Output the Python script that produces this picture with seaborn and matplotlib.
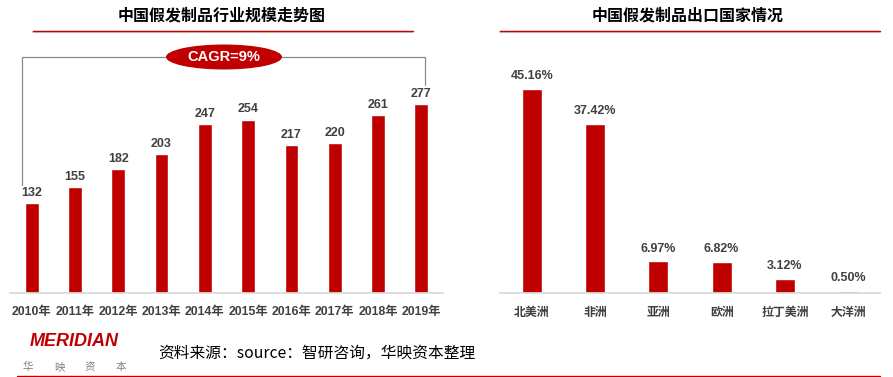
import matplotlib
matplotlib.use('Agg')
import matplotlib.pyplot as plt
import seaborn as sns
import pandas as pd
from matplotlib.patches import Ellipse
from matplotlib.lines import Line2D

# 数据
years = ["2010年", "2011年", "2012年", "2013年", "2014年",
         "2015年", "2016年", "2017年", "2018年", "2019年"]
scale = [132, 155, 182, 203, 247, 254, 217, 220, 261, 277]
regions = ["北美洲", "非洲", "亚洲", "欧洲", "拉丁美洲", "大洋洲"]
shares = [45.16, 37.42, 6.97, 6.82, 3.12, 0.50]

RED = "#C00000"
GREY = "#404040"
NUM_FONT = ["Liberation Sans", "Noto Sans CJK SC", "DejaVu Sans"]
CJK_FONT = ["Noto Sans CJK SC", "DejaVu Sans"]

sns.set_theme(style="white")
plt.rcParams['font.family'] = CJK_FONT

W, H = 893, 377
fig = plt.figure(figsize=(W / 100, H / 100), dpi=100)


def px_axes(x0, x1, ytop, ybot):
    return fig.add_axes([x0 / W, 1 - ybot / H, (x1 - x0) / W, (ybot - ytop) / H])


def style_axis(ax):
    sns.despine(ax=ax, left=True, top=True, right=True)
    ax.spines['bottom'].set_color("#D9D9D9")
    ax.set_yticks([])
    ax.set_xlabel("")
    ax.set_ylabel("")
    ax.tick_params(axis='x', length=0, pad=9)


# 左图：行业规模
ax1 = px_axes(10, 443, 40, 293)
df1 = pd.DataFrame({"year": years, "value": scale})
sns.barplot(data=df1, x="year", y="value", color=RED, width=0.32,
            saturation=1, ax=ax1)
ax1.set_xlim(-0.5, len(years) - 0.5)
ax1.set_ylim(0, 253 / 0.683)
style_axis(ax1)
for lab in ax1.get_xticklabels():
    lab.set_fontfamily(NUM_FONT)
    lab.set_fontweight('bold')
    lab.set_fontsize(8.8)
    lab.set_color(GREY)
for i, v in enumerate(scale):
    ax1.text(i, v + 6, str(v), ha='center', va='bottom', fontsize=9,
             fontweight='bold', color=GREY, family=NUM_FONT)

# CAGR 括线
bx = [-0.23, -0.23, 9.09, 9.09]
by = [158, 345, 345, 304]
ax1.plot(bx, by, color="#8C8C8C", lw=0.9, clip_on=False)
ell = Ellipse((224 / W, 1 - 57 / H), 116 / W, 25 / H, transform=fig.transFigure,
              facecolor=RED, edgecolor='none', zorder=5)
fig.add_artist(ell)
fig.text(224 / W, 1 - 57 / H, "CAGR=9%", ha='center', va='center', color='white',
         fontsize=10.5, fontweight='bold', family=NUM_FONT, zorder=6)

# 右图：出口国家
ax2 = px_axes(500, 880, 40, 293)
df2 = pd.DataFrame({"region": regions, "share": shares})
sns.barplot(data=df2, x="region", y="share", color=RED, width=0.32,
            saturation=1, ax=ax2)
ax2.set_xlim(-0.5, len(regions) - 0.5)
ax2.set_ylim(0, 253 / 4.52)
style_axis(ax2)
for lab in ax2.get_xticklabels():
    lab.set_fontweight('bold')
    lab.set_fontsize(8.6)
    lab.set_color(GREY)
for i, v in enumerate(shares):
    ax2.text(i, v + 1.5, f"{v:.2f}%", ha='center', va='bottom', fontsize=9,
             fontweight='bold', color=GREY, family=NUM_FONT)

# 标题与下划线
fig.text(222 / W, 1 - 15 / H, "中国假发制品行业规模走势图", ha='center', va='center',
         fontsize=11.5, fontweight='bold', color='black')
fig.text(688 / W, 1 - 15 / H, "中国假发制品出口国家情况", ha='center', va='center',
         fontsize=11.5, fontweight='bold', color='black')
for x0, x1 in [(33, 413), (500, 880)]:
    fig.add_artist(Line2D([x0 / W, x1 / W], [1 - 32 / H, 1 - 32 / H],
                          transform=fig.transFigure, color="#D0D0D0", lw=1.6))
    fig.add_artist(Line2D([x0 / W, x1 / W], [1 - 30.5 / H, 1 - 30.5 / H],
                          transform=fig.transFigure, color=RED, lw=1.0))

# 页脚
fig.text(74 / W, 1 - 342 / H, "MERIDIAN", ha='center', va='center', color=RED,
         fontsize=13, fontweight='bold', fontstyle='italic', family=NUM_FONT)
for k, ch in enumerate(["华", "映", "资", "本"]):
    fig.text((28 + k * 31) / W, 1 - 367 / H, ch, ha='center', va='center',
             color="#7F7F7F", fontsize=7.5)
fig.text(158 / W, 1 - 353 / H, "资料来源：source：智研咨询，华映资本整理",
         ha='left', va='center', fontsize=11.3, color='black')
fig.add_artist(Line2D([17 / W, 880 / W], [1 - 375.5 / H, 1 - 375.5 / H],
                      transform=fig.transFigure, color=RED, lw=1.0))

fig.savefig("out.png", dpi=100)
